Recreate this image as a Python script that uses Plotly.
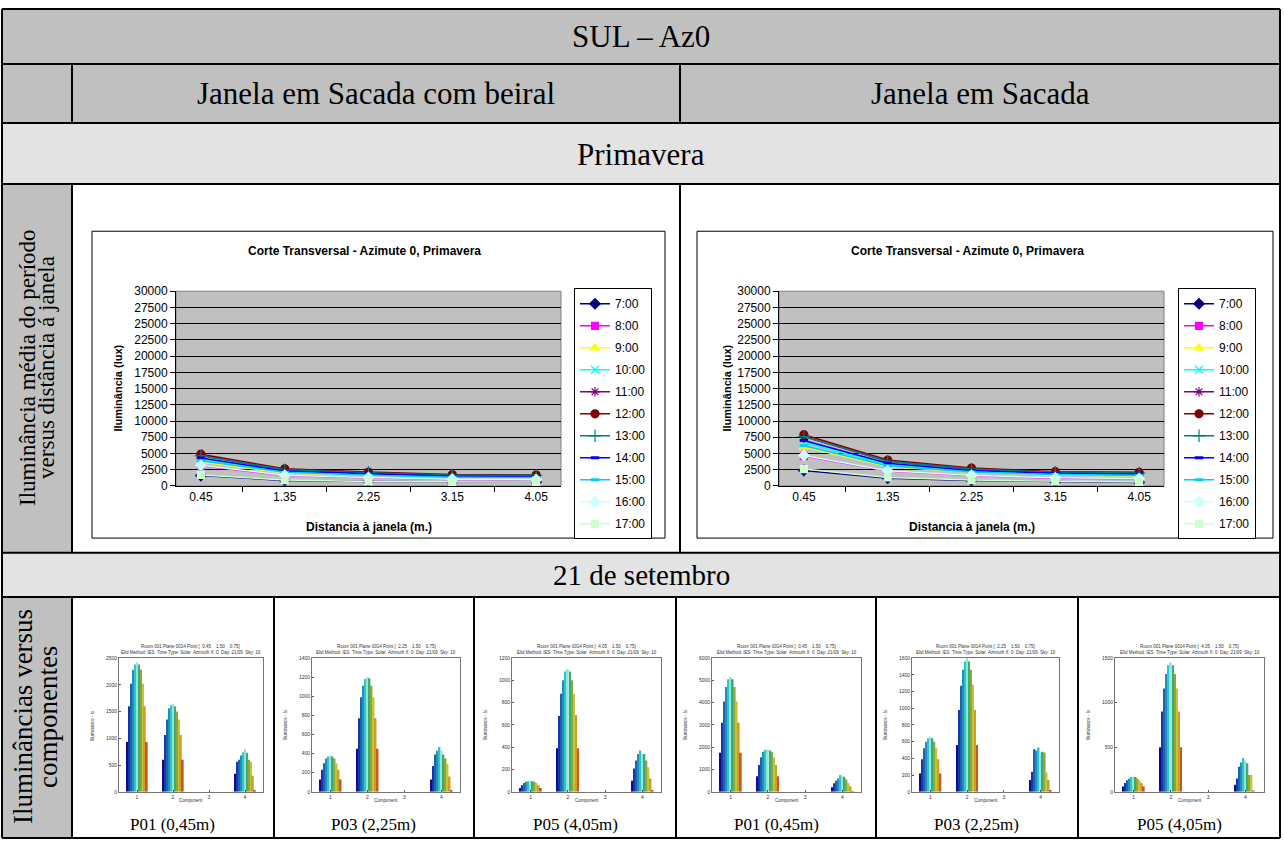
import plotly.graph_objects as go

W, H = 1284, 848


def px(x):
    return x / W


def py(y):
    return 1 - y / H


# ---------------- DATA ----------------
distances = ["0.45", "1.35", "2.25", "3.15", "4.05"]
hours = ["7:00", "8:00", "9:00", "10:00", "11:00", "12:00",
         "13:00", "14:00", "15:00", "16:00", "17:00"]

# Janela em Sacada com beiral (lux), one row per hour
beiral_series = [
    [1600, 850, 700, 600, 600],
    [3100, 1600, 1250, 1000, 1000],
    [3700, 2000, 1600, 1300, 1250],
    [4200, 2250, 1850, 1500, 1450],
    [4700, 2500, 2050, 1650, 1650],
    [4900, 2650, 2150, 1750, 1700],
    [4650, 2500, 2050, 1650, 1650],
    [4300, 2300, 1900, 1500, 1450],
    [3900, 2100, 1650, 1350, 1300],
    [3200, 1650, 1300, 1050, 1000],
    [1700, 900, 700, 600, 600],
]

# Janela em Sacada (lux), one row per hour
sacada_series = [
    [2400, 1200, 850, 650, 550],
    [4600, 2300, 1600, 1200, 1100],
    [6000, 3000, 2100, 1700, 1550],
    [6700, 3300, 2300, 1850, 1750],
    [7600, 3800, 2600, 2100, 2000],
    [7900, 4000, 2750, 2200, 2100],
    [7600, 3800, 2600, 2100, 2000],
    [7000, 3500, 2400, 1950, 1850],
    [6200, 3100, 2150, 1750, 1600],
    [4700, 2350, 1650, 1250, 1150],
    [2600, 1300, 900, 700, 600],
]

components = [1, 2, 3, 4]
zeros11 = [0] * 11

# component bars (lux), per component: values for 7:00 ... 17:00
beiral_p01 = [
    [930, 1600, 2020, 2280, 2380, 2420, 2380, 2280, 2020, 1600, 930],
    [600, 1060, 1350, 1560, 1620, 1640, 1600, 1500, 1350, 1060, 600],
    zeros11,
    [340, 560, 600, 680, 740, 800, 730, 600, 560, 300, 20],
]
beiral_p03 = [
    [130, 230, 300, 350, 370, 380, 370, 350, 300, 230, 130],
    [450, 770, 990, 1110, 1180, 1200, 1190, 1110, 990, 770, 450],
    zeros11,
    [130, 270, 390, 430, 470, 430, 390, 350, 290, 160, 20],
]
beiral_p05 = [
    [35, 60, 80, 90, 95, 100, 95, 90, 80, 60, 35],
    [390, 680, 880, 1000, 1080, 1100, 1080, 1000, 880, 690, 390],
    zeros11,
    [100, 210, 280, 340, 370, 340, 340, 280, 220, 120, 10],
]
sacada_p01 = [
    [1750, 3100, 4050, 4700, 5050, 5150, 5050, 4700, 4050, 3100, 1750],
    [700, 1200, 1550, 1800, 1880, 1900, 1850, 1800, 1550, 1200, 700],
    zeros11,
    [200, 380, 500, 600, 750, 700, 680, 550, 400, 250, 20],
]
sacada_p03 = [
    [220, 390, 520, 600, 640, 660, 640, 600, 520, 390, 220],
    [560, 980, 1270, 1460, 1560, 1600, 1560, 1460, 1280, 980, 560],
    zeros11,
    [140, 240, 510, 490, 530, 470, 480, 470, 230, 140, 20],
]
sacada_p05 = [
    [60, 100, 130, 150, 165, 170, 165, 150, 130, 100, 60],
    [500, 900, 1160, 1320, 1420, 1450, 1420, 1320, 1160, 900, 500],
    zeros11,
    [80, 150, 280, 330, 380, 350, 320, 190, 190, 10, 0],
]

bar_charts = [beiral_p01, beiral_p03, beiral_p05, sacada_p01, sacada_p03, sacada_p05]
bar_titles = [
    "Room 001 Plane 0014 Point [  0.45    1.50    0.75]",
    "Room 001 Plane 0014 Point [  2.25    1.50    0.75]",
    "Room 001 Plane 0014 Point [  4.05    1.50    0.75]",
    "Room 001 Plane 0014 Point [  0.45    1.50    0.75]",
    "Room 001 Plane 0014 Point [  2.25    1.50    0.75]",
    "Room 001 Plane 0014 Point [  4.05    1.50    0.75]",
]
bar_subtitle = "Elid Method: IES  Time Type: Solar  Azimuth X: 0  Day: 21/09  Sky: 10"
bar_ymax = [2500, 1400, 1200, 6000, 1600, 1500]
bar_dtick = [500, 200, 200, 1000, 200, 500]
bottom_labels = ["P01 (0,45m)", "P03 (2,25m)", "P05 (4,05m)",
                 "P01 (0,45m)", "P03 (2,25m)", "P05 (4,05m)"]

# ---------------- STYLES ----------------
SERIF = "Times New Roman, Liberation Serif, serif"
ARIAL = "Arial, Liberation Sans, sans-serif"
GRAY = "#c0c0c0"
LIGHT = "#e3e3e3"

hour_styles = [
    ("#000080", "diamond", 8),
    ("#FF00FF", "square", 7),
    ("#FFFF00", "triangle-up", 8),
    ("#00FFFF", "x-thin-open", 8),
    ("#800080", "asterisk-open", 8),
    ("#800000", "circle", 8),
    ("#008080", "cross-thin-open", 9),
    ("#0000FF", "line-ew-open", 6),
    ("#00CCFF", "line-ew-open", 6),
    ("#CCFFFF", "diamond", 8),
    ("#CCFFCC", "square", 7),
]

bar_colors = ["#0b0b8c", "#1736a8", "#1f62b0", "#238fb8", "#2dc3d2", "#8fe8cf",
              "#3fa878", "#8aa83a", "#c4c43a", "#d39a2a", "#c45a1c"]

fig = go.Figure()

# ---------------- LINE CHARTS ----------------
line_defs = [
    dict(series=beiral_series, xa="x", ya="y", legend="legend", tag="b"),
    dict(series=sacada_series, xa="x2", ya="y2", legend="legend2", tag="s"),
]
for ld in line_defs:
    for h, vals in enumerate(ld["series"]):
        col, sym, size = hour_styles[h]
        lw = 3 if sym == "line-ew-open" else 1.2
        fig.add_trace(go.Scatter(
            x=distances, y=vals, name=hours[h], mode="lines+markers",
            xaxis=ld["xa"], yaxis=ld["ya"], legend=ld["legend"],
            legendgroup=ld["tag"] + hours[h],
            line=dict(color=col, width=1.5),
            marker=dict(symbol=sym, size=size, color=col,
                        line=dict(color=col, width=lw)),
        ))

# ---------------- BAR CHARTS ----------------
for i, chart in enumerate(bar_charts):
    n = i + 3
    for h in range(len(hours)):
        fig.add_trace(go.Bar(
            x=components, y=[comp[h] for comp in chart],
            xaxis=f"x{n}", yaxis=f"y{n}", showlegend=False,
            marker=dict(color=bar_colors[h], line=dict(width=0)),
        ))

# ---------------- LAYOUT ----------------
line_plot_x = [(176, 561), (779, 1164)]
line_plot_y = (289, 487)
legend_x = [574, 1178]
bar_plot_x = [(119, 263), (312, 460), (512, 661), (712, 861), (912, 1059), (1115, 1264)]
bar_plot_y = (662, 798)

layout = dict(
    width=W, height=H, margin=dict(l=0, r=0, t=0, b=0),
    paper_bgcolor="white", plot_bgcolor="rgba(0,0,0,0)",
    barmode="group", bargap=0.4, bargroupgap=0.12,
    showlegend=True,
)

for k, (x0, x1) in enumerate(line_plot_x):
    sx = "" if k == 0 else "2"
    layout["xaxis" + sx] = dict(
        domain=[px(x0), px(x1)], anchor="y" + sx, type="category",
        categoryorder="array", categoryarray=distances,
        tickson="boundaries", ticks="outside", ticklen=5, tickcolor="black",
        showline=True, linecolor="black", linewidth=1, showgrid=False,
        tickfont=dict(family=ARIAL, size=12, color="black"),
    )
    layout["yaxis" + sx] = dict(
        domain=[py(line_plot_y[1]), py(line_plot_y[0])], anchor="x" + sx,
        range=[0, 30000], dtick=2500, tick0=0, tickformat="d",
        ticks="outside", ticklen=5, tickcolor="black",
        showline=True, linecolor="black", linewidth=1,
        showgrid=True, gridcolor="black", gridwidth=1, zeroline=False,
        tickfont=dict(family=ARIAL, size=12, color="black"),
    )

for i, (x0, x1) in enumerate(bar_plot_x):
    n = i + 3
    layout[f"xaxis{n}"] = dict(
        domain=[px(x0), px(x1)], anchor=f"y{n}", range=[0.5, 4.5],
        tickvals=components, ticks="inside", ticklen=2, tickcolor="#555",
        showline=True, mirror=True, linecolor="#777", linewidth=1,
        showgrid=False, zeroline=False,
        tickfont=dict(family=ARIAL, size=5, color="#333"),
    )
    layout[f"yaxis{n}"] = dict(
        domain=[py(bar_plot_y[1]), py(bar_plot_y[0])], anchor=f"x{n}",
        range=[0, bar_ymax[i]], dtick=bar_dtick[i], tickformat="d",
        ticks="inside", ticklen=2, tickcolor="#555",
        showline=True, mirror=True, linecolor="#777", linewidth=1,
        showgrid=False, zeroline=False,
        tickfont=dict(family=ARIAL, size=5, color="#333"),
    )

legend_common = dict(
    xanchor="left", yanchor="top", bgcolor="white", bordercolor="black",
    borderwidth=1, font=dict(family=ARIAL, size=12, color="black"),
    tracegroupgap=3, traceorder="grouped", itemwidth=30,
)
layout["legend"] = dict(x=px(legend_x[0]), y=py(286), **legend_common)
layout["legend2"] = dict(x=px(legend_x[1]), y=py(286), **legend_common)

fig.update_layout(**layout)

# ---------------- TABLE (shapes) ----------------
shapes = []


def rect(x0, y0, x1, y1, fill, line_color=None, lw=0, layer="below"):
    shapes.append(dict(type="rect", xref="paper", yref="paper",
                       x0=px(x0), x1=px(x1), y0=py(y1), y1=py(y0),
                       fillcolor=fill, layer=layer,
                       line=dict(color=line_color or "rgba(0,0,0,0)", width=lw)))


def seg(x0, y0, x1, y1, lw=2, color="black"):
    shapes.append(dict(type="line", xref="paper", yref="paper",
                       x0=px(x0), x1=px(x1), y0=py(y0), y1=py(y1),
                       layer="above", line=dict(color=color, width=lw)))


L, R, T, B = 2, 1280, 2, 845
rect(L, T, R, 58, GRAY)
rect(L, 58, R, 118, GRAY)
rect(L, 118, R, 180, LIGHT)
rect(L, 180, 72, 555, GRAY)
rect(L, 555, R, 600, LIGHT)
rect(L, 600, 72, B, GRAY)

# chart frames
rect(92, 228, 665, 540, "white", "black", 1)
rect(697, 228, 1273, 540, "white", "black", 1)
# line chart plot areas
for (x0, x1) in line_plot_x:
    rect(x0, line_plot_y[0], x1, line_plot_y[1], GRAY, "#808080", 1)

# table lines
seg(L, T, R, T)
seg(L, B, R, B)
seg(L, T, L, B)
seg(R, T, R, B)
for yy in (58, 118, 180, 555, 600):
    seg(L, yy, R, yy)
for (y0, y1) in ((58, 118), (180, 555), (600, B)):
    seg(72, y0, 72, y1)
for (y0, y1) in ((58, 118), (180, 555)):
    seg(680, y0, 680, y1)
cell_edges = [72, 274, 474, 676, 876, 1078, 1280]
for xx in cell_edges[1:-1]:
    seg(xx, 600, xx, B)

fig.update_layout(shapes=shapes)

# ---------------- TEXT ----------------
ann = []


def text(x, y, s, size, family=SERIF, angle=0, color="black", bold=False):
    ann.append(dict(xref="paper", yref="paper", x=px(x), y=py(y),
                    xanchor="center", yanchor="middle", showarrow=False,
                    text=f"<b>{s}</b>" if bold else s, textangle=angle,
                    font=dict(family=family, size=size, color=color)))


text(641, 30, "SUL – Az0", 31)
text(376, 88, "Janela em Sacada com beiral", 31)
text(980, 88, "Janela em Sacada", 31)
text(641, 150, "Primavera", 31)
text(641, 578, "21 de setembro", 29)
text(28, 367, "Iluminância média do período", 23, angle=-90)
text(47, 367, "versus distância á janela", 23, angle=-90)
text(23, 722, "Iluminâncias versus", 27, angle=-90)
text(48, 722, "componentes", 27, angle=-90)

# line chart texts
for (x0, x1), ytx in zip(line_plot_x, (118, 727)):
    cx = (x0 + x1) / 2
    text(cx - 4, 248, "Corte Transversal - Azimute 0, Primavera", 12, ARIAL, bold=True)
    text(ytx, (line_plot_y[0] + line_plot_y[1]) / 2, "Iluminância (lux)", 11, ARIAL, angle=-90, bold=True)
    text(cx, 529, "Distancia à janela (m.)", 12, ARIAL, bold=True)

# bar chart texts
for i, (x0, x1) in enumerate(bar_plot_x):
    cx = (x0 + x1) / 2
    text(cx, 650, bar_titles[i], 4.5, ARIAL, color="#333")
    text(cx, 656.5, bar_subtitle, 4.5, ARIAL, color="#333")
    text(x0 - 26, 730, "Illuminance - lx", 4.5, ARIAL, angle=-90, color="#333")
    text(cx, 807, "Component", 4.5, ARIAL, color="#333")
    c0, c1 = cell_edges[i], cell_edges[i + 1]
    text((c0 + c1) / 2, 831, bottom_labels[i], 17)

fig.update_layout(annotations=ann)

fig.write_html(
    "out.html",
    config={"displayModeBar": False},
    post_script=(
        "document.documentElement.style.margin='0';"
        "document.body.style.margin='0';"
        "document.body.style.overflow='hidden';"
        "var gd=document.getElementById('{plot_id}');"
        "gd.style.position='fixed';gd.style.left='0px';gd.style.top='0px';"
    ),
)
